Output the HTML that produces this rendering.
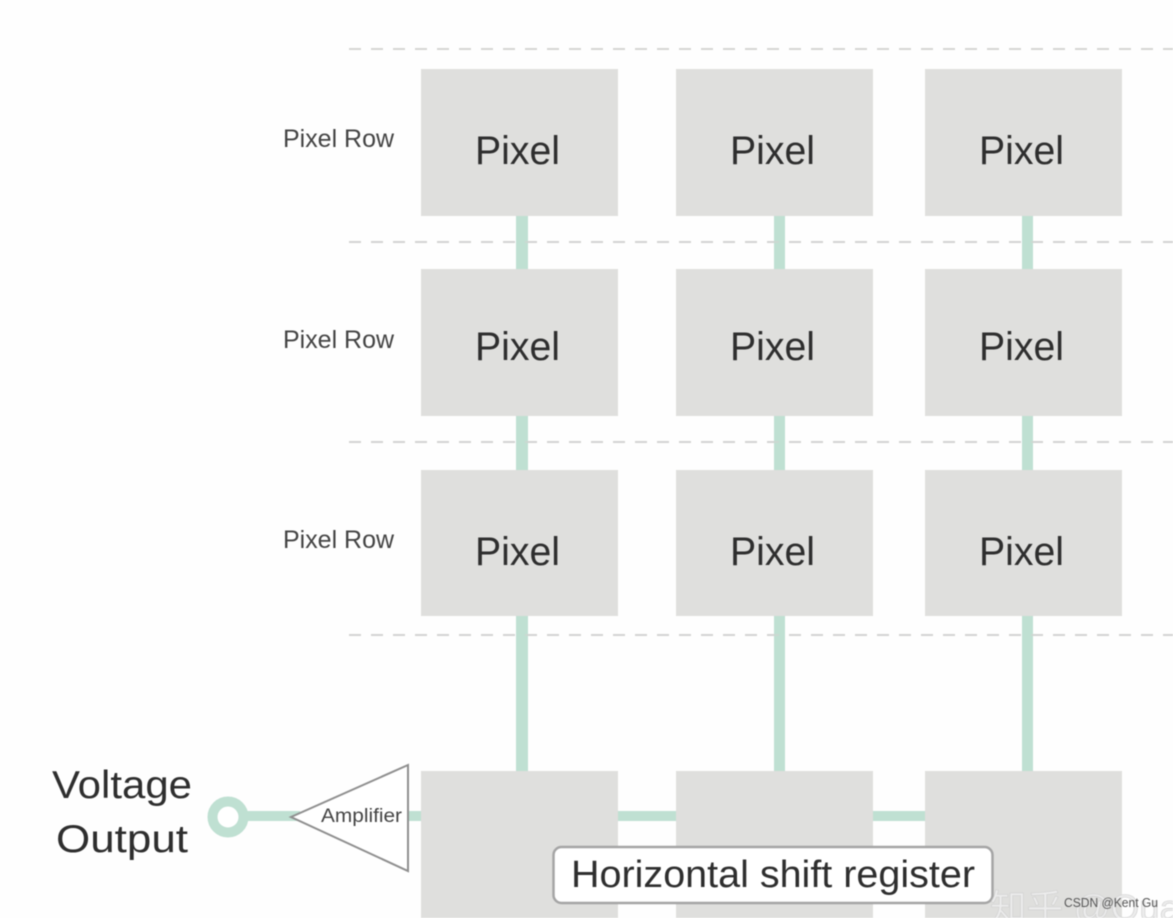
<!DOCTYPE html>
<html><head><meta charset="utf-8"><style>
html,body{margin:0;padding:0;background:#fff;width:1173px;height:918px;overflow:hidden}
svg{display:block;filter:blur(.6px)}
text{font-family:"Liberation Sans",sans-serif;fill:#2e2e2e}
</style></head><body>
<svg width="1173" height="918" viewBox="0 0 1173 918" xmlns="http://www.w3.org/2000/svg">
<rect width="1173" height="918" fill="#fefefe"/>
<g stroke="#d6d6d4" stroke-width="2" stroke-dasharray="12 10" fill="none">
<path d="M349 49H1173"/><path d="M349 242H1173"/><path d="M349 442H1173"/><path d="M349 635H1173"/>
</g>
<g fill="#bfe0d2">
<rect x="516" y="210" width="12" height="565"/>
<rect x="774" y="210" width="11" height="565"/>
<rect x="1022" y="210" width="11" height="565"/>
<rect x="240" y="811" width="60" height="10"/>
<rect x="405" y="811" width="20" height="10"/>
<rect x="615" y="811" width="65" height="10"/>
<rect x="870" y="811" width="60" height="10"/>
</g>
<g stroke="#d2d2d0" stroke-width="2" stroke-dasharray="12 10" fill="none" opacity=".6">
<path d="M349 242H1173"/><path d="M349 442H1173"/><path d="M349 635H1173"/>
</g>
<g fill="#dfdfdd">
<rect x="421" y="69" width="197" height="147"/><rect x="676" y="69" width="197" height="147"/><rect x="925" y="69" width="197" height="147"/>
<rect x="421" y="269" width="197" height="147"/><rect x="676" y="269" width="197" height="147"/><rect x="925" y="269" width="197" height="147"/>
<rect x="421" y="470" width="197" height="146"/><rect x="676" y="470" width="197" height="146"/><rect x="925" y="470" width="197" height="146"/>
<rect x="421" y="771" width="197" height="147"/><rect x="676" y="771" width="197" height="147"/><rect x="925" y="771" width="197" height="147"/>
</g>
<g font-size="40" text-anchor="start">
<text x="475" y="164" textLength="85" lengthAdjust="spacingAndGlyphs">Pixel</text>
<text x="730" y="164" textLength="85" lengthAdjust="spacingAndGlyphs">Pixel</text>
<text x="979" y="164" textLength="85" lengthAdjust="spacingAndGlyphs">Pixel</text>
<text x="475" y="360" textLength="85" lengthAdjust="spacingAndGlyphs">Pixel</text>
<text x="730" y="360" textLength="85" lengthAdjust="spacingAndGlyphs">Pixel</text>
<text x="979" y="360" textLength="85" lengthAdjust="spacingAndGlyphs">Pixel</text>
<text x="475" y="565" textLength="85" lengthAdjust="spacingAndGlyphs">Pixel</text>
<text x="730" y="565" textLength="85" lengthAdjust="spacingAndGlyphs">Pixel</text>
<text x="979" y="565" textLength="85" lengthAdjust="spacingAndGlyphs">Pixel</text>
</g>
<g font-size="25" style="fill:#444">
<text x="283" y="147" textLength="111" lengthAdjust="spacingAndGlyphs" style="fill:#444">Pixel Row</text>
<text x="283" y="348" textLength="111" lengthAdjust="spacingAndGlyphs" style="fill:#444">Pixel Row</text>
<text x="283" y="548" textLength="111" lengthAdjust="spacingAndGlyphs" style="fill:#444">Pixel Row</text>
</g>
<text x="52" y="798" font-size="39" textLength="140" lengthAdjust="spacingAndGlyphs">Voltage</text>
<text x="56" y="852" font-size="39" textLength="132" lengthAdjust="spacingAndGlyphs">Output</text>
<circle cx="228" cy="817" r="15.5" fill="#fff" stroke="#bfe0d2" stroke-width="10"/>
<polygon points="291,817 408,765 408,871" fill="#fff" stroke="#8f8f8f" stroke-width="2"/>
<text x="321" y="822" font-size="19" textLength="81" lengthAdjust="spacingAndGlyphs" style="fill:#444">Amplifier</text>
<rect x="553.500" y="847" width="439" height="56" rx="8" fill="#fff" stroke="#a5a5a5" stroke-width="2.500"/>
<text x="571" y="887" font-size="38" textLength="404" lengthAdjust="spacingAndGlyphs">Horizontal shift register</text>
<text x="990" y="920" font-size="36" textLength="190" lengthAdjust="spacingAndGlyphs" style="font-family:'Liberation Sans','Noto Sans CJK SC',sans-serif;fill:#ececec;stroke:#cfcfcf;stroke-width:.6">知乎 @Qua</text>
<text x="1064" y="907" font-size="13" textLength="94" lengthAdjust="spacingAndGlyphs" style="fill:#555">CSDN @Kent Gu</text>
</svg>
</body></html>
